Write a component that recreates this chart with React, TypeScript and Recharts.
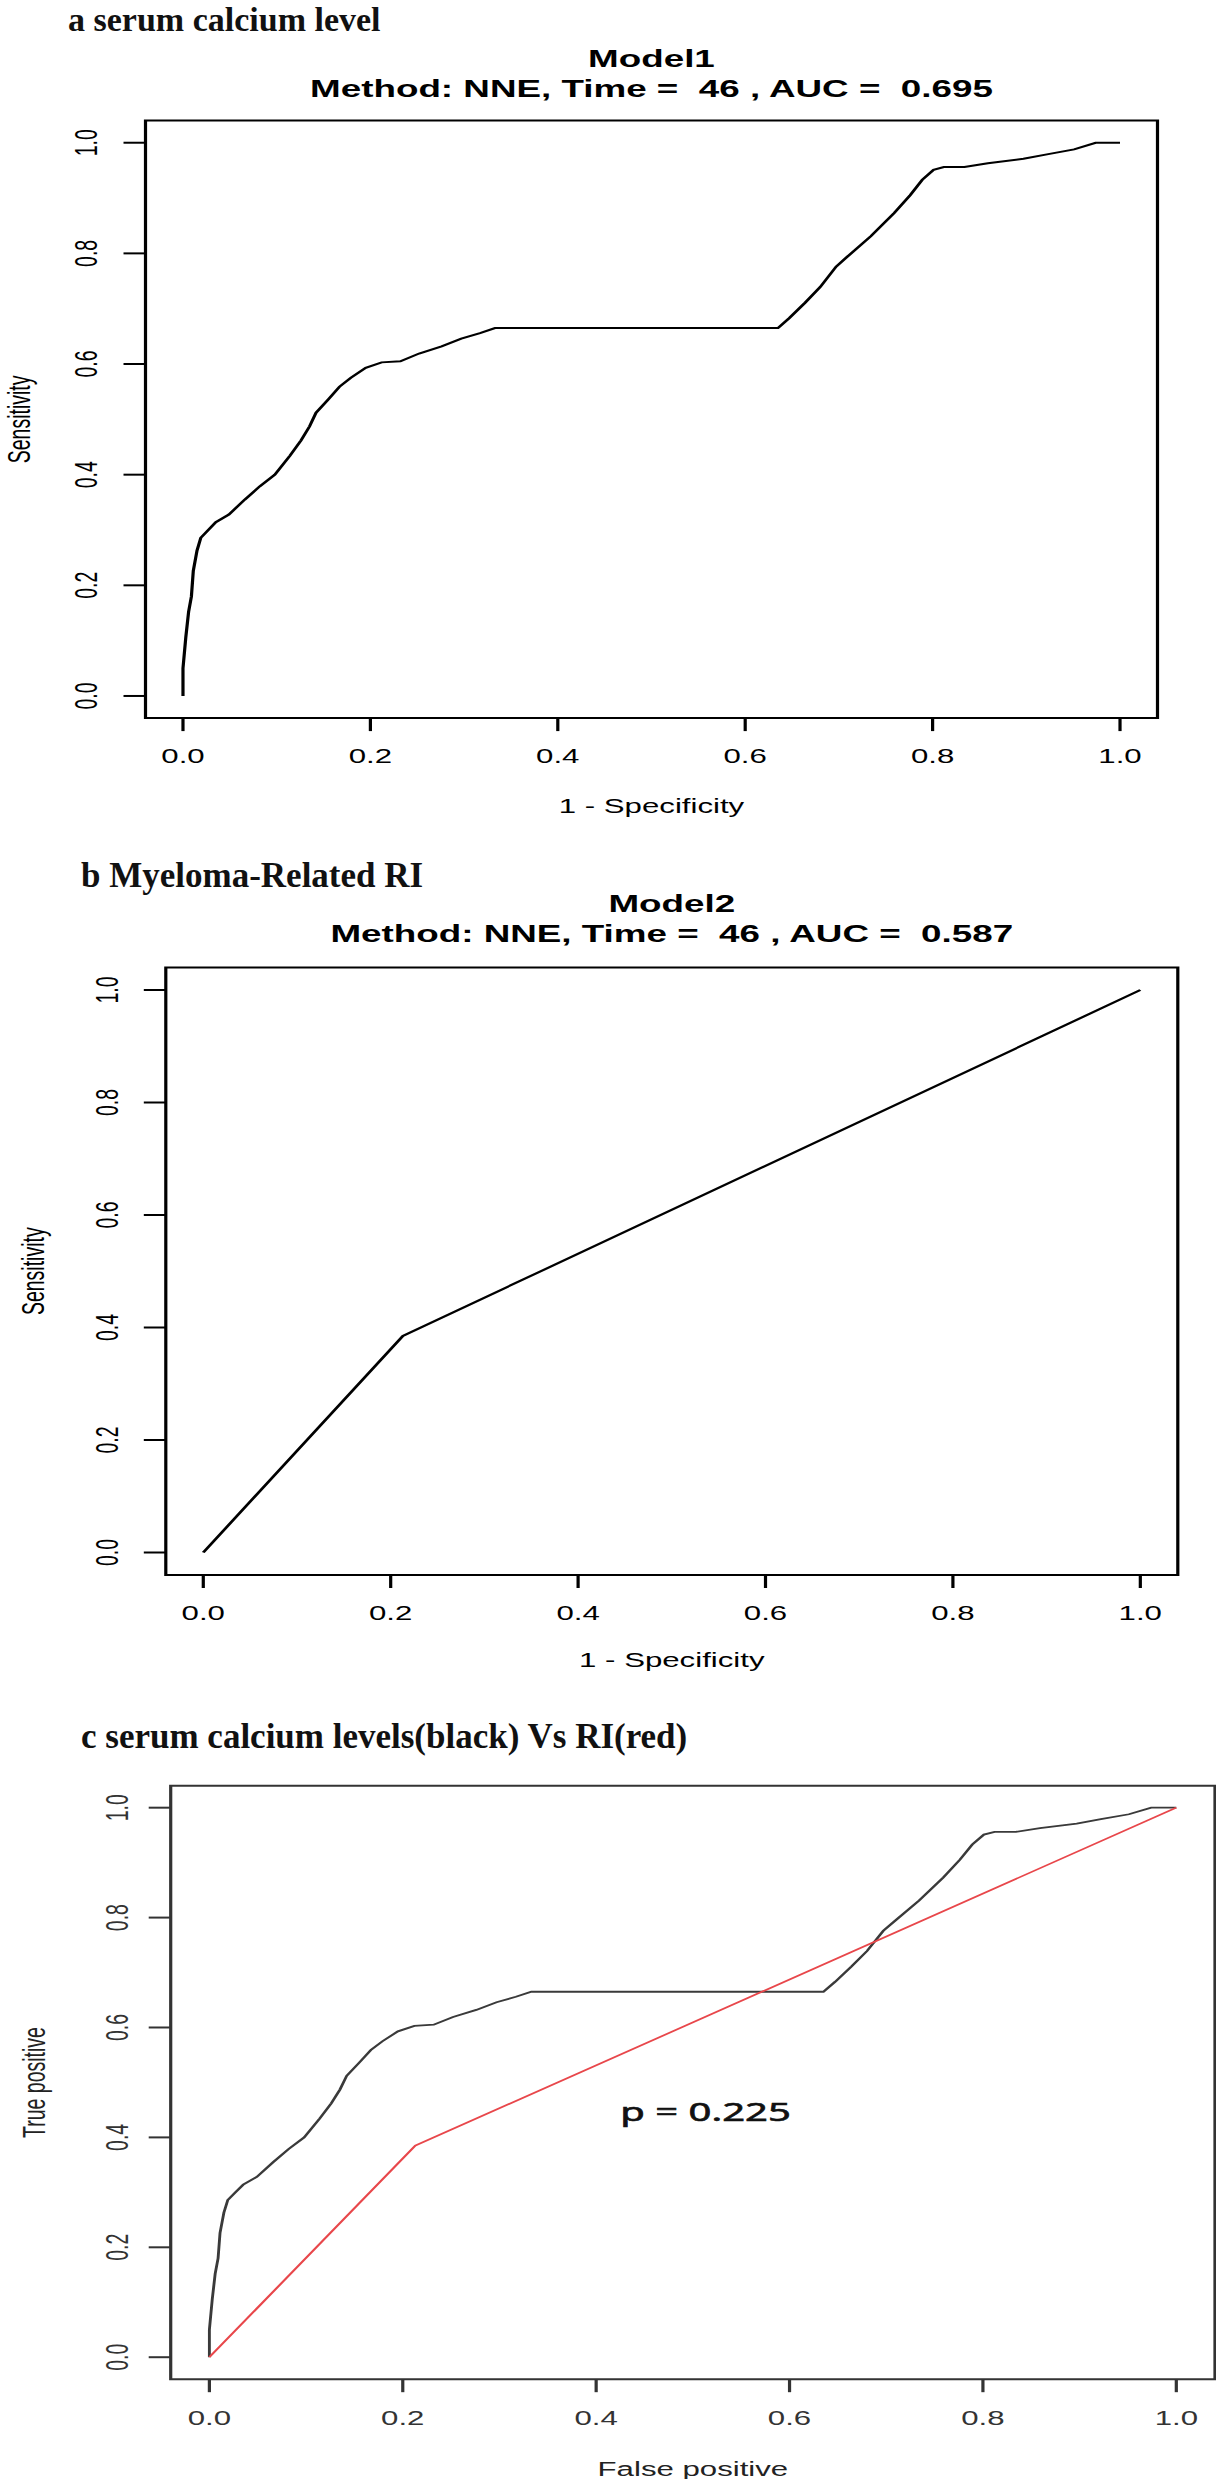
import React from 'react';
import { LineChart, Line, XAxis, YAxis, ReferenceArea, ReferenceDot } from 'recharts';

// the original figure is stretched sideways, so every chart is drawn narrow and scaled back out
const S = 1.6;
const PAGE_W = 1216;
const PAGE_H = 2479;
const CW = PAGE_W / S;

const ticks = [0, 0.2, 0.4, 0.6, 0.8, 1.0];

// serum calcium level ROC (Model1, AUC 0.695)
const calciumFpr = [0, 0, 0.003, 0.006, 0.009, 0.011, 0.015, 0.019, 0.027, 0.035, 0.049, 0.066, 0.082, 0.098, 0.114, 0.126, 0.135, 0.142, 0.155, 0.167, 0.179, 0.195, 0.212, 0.232, 0.252, 0.276, 0.297, 0.317, 0.333, 0.635, 0.647, 0.664, 0.68, 0.697, 0.709, 0.734, 0.759, 0.776, 0.789, 0.801, 0.812, 0.834, 0.859, 0.897, 0.922, 0.951, 0.974, 1];
const calciumTpr = [0, 0.05, 0.106, 0.152, 0.18, 0.226, 0.263, 0.286, 0.3, 0.314, 0.328, 0.355, 0.379, 0.4, 0.434, 0.462, 0.487, 0.512, 0.536, 0.559, 0.575, 0.593, 0.603, 0.605, 0.619, 0.632, 0.646, 0.656, 0.665, 0.665, 0.683, 0.711, 0.739, 0.776, 0.794, 0.831, 0.873, 0.905, 0.933, 0.951, 0.956, 0.956, 0.963, 0.971, 0.979, 0.988, 1, 1];

// myeloma-related RI ROC (Model2, AUC 0.587)
const riFpr = [0, 0.213, 1];
const riTpr = [0, 0.385, 1];

const pValueText = 'p = 0.225';
const pValueAt = { x: 0.425, y: 0.43 };

const toPoints = (xs: number[], ys: number[]) => xs.map((x, i) => ({ x, y: ys[i] }));
const calciumData = toPoints(calciumFpr, calciumTpr);
const riData = toPoints(riFpr, riTpr);

const SANS = '"Liberation Sans", Arial, sans-serif';
const SERIF = '"Liberation Serif", "Times New Roman", serif';

type Series = { data: { x: number; y: number }[]; color: string; width: number };

type PanelGeom = {
  chartTop: number;
  boxL: number;
  boxR: number;
  boxT: number;
  boxB: number;
  yLabRight: number;
  tickBase: number;
  ink: string;
  series: Series[];
  showP?: boolean;
};

function RocPanel(g: PanelGeom) {
  const mt = g.boxT - g.chartTop;
  const plotH = g.boxB - g.boxT;
  const xh = 120;
  const H = mt + plotH + xh;
  const yw = g.boxL / S;
  const mr = CW - g.boxR / S;

  const xTick = (p: any) => (
    <text
      x={p.x}
      y={g.tickBase - g.chartTop}
      textAnchor="middle"
      fontFamily={SANS}
      fontSize={19.5}
      fill={g.ink}
    >
      {Number(p.payload.value).toFixed(1)}
    </text>
  );

  const yTick = (p: any) => {
    const bx = g.yLabRight / S;
    return (
      <text
        x={bx}
        y={p.y}
        transform={`rotate(-90 ${bx} ${p.y})`}
        textAnchor="middle"
        fontFamily={SANS}
        fontSize={19.5}
        fill={g.ink}
      >
        {Number(p.payload.value).toFixed(1)}
      </text>
    );
  };

  const pLabel = (p: any) => (
    <text
      x={p.viewBox.x}
      y={p.viewBox.y}
      fontFamily='"Noto Sans", sans-serif'
      fontSize={25}
      fill="#111"
      stroke="#111"
      strokeWidth={0.6}
    >
      {pValueText}
    </text>
  );

  return (
    <div
      style={{
        position: 'absolute',
        left: 0,
        top: g.chartTop,
        width: CW,
        height: H,
        transform: `scaleX(${S})`,
        transformOrigin: '0 0',
      }}
    >
      <LineChart width={CW} height={H} margin={{ top: mt, right: mr, bottom: 0, left: 0 }}>
        <XAxis
          type="number"
          dataKey="x"
          domain={[-0.04, 1.04]}
          ticks={ticks}
          interval={0}
          allowDataOverflow
          axisLine={false}
          tickSize={13}
          tickLine={{ stroke: g.ink, strokeWidth: 2 }}
          tick={xTick}
          height={xh}
        />
        <YAxis
          type="number"
          dataKey="y"
          domain={[-0.04, 1.04]}
          ticks={ticks}
          interval={0}
          allowDataOverflow
          axisLine={false}
          tickSize={13.75}
          tickLine={{ stroke: g.ink, strokeWidth: 2 }}
          tick={yTick}
          width={yw}
        />
        <ReferenceArea
          x1={-0.04}
          x2={1.04}
          y1={-0.04}
          y2={1.04}
          fill="none"
          fillOpacity={0}
          stroke={g.ink}
          strokeWidth={2}
          ifOverflow="visible"
        />
        {g.series.map((s, i) => (
          <Line
            key={i}
            data={s.data}
            dataKey="y"
            type="linear"
            stroke={s.color}
            strokeWidth={s.width}
            dot={false}
            activeDot={false}
            isAnimationActive={false}
          />
        ))}
        {g.showP && (
          <ReferenceDot
            x={pValueAt.x}
            y={pValueAt.y}
            r={0}
            fill="none"
            stroke="none"
            ifOverflow="visible"
            label={pLabel}
          />
        )}
      </LineChart>
    </div>
  );
}

const geomA: PanelGeom = {
  chartTop: 100, boxL: 145.5, boxR: 1157.5, boxT: 120.6, boxB: 718.1,
  yLabRight: 97, tickBase: 763, ink: '#000',
  series: [{ data: calciumData, color: '#000', width: 2 }],
};
const geomB: PanelGeom = {
  chartTop: 947, boxL: 165.8, boxR: 1177.8, boxT: 967.5, boxB: 1575,
  yLabRight: 118, tickBase: 1620, ink: '#000',
  series: [{ data: riData, color: '#000', width: 2 }],
};
const geomC: PanelGeom = {
  chartTop: 1765, boxL: 170.7, boxR: 1215, boxT: 1785.7, boxB: 2379.2,
  yLabRight: 128, tickBase: 2425, ink: '#333',
  series: [
    { data: calciumData, color: '#3a3a3a', width: 1.8 },
    { data: riData, color: '#e8474b', width: 1.6 },
  ],
  showP: true,
};

// stretched R texts (titles and axis labels), page coordinates
function RText(props: { x: number; y: number; size?: number; bold?: boolean; rotate?: boolean; fill?: string; children: React.ReactNode }) {
  const x = props.x / S;
  return (
    <text
      x={x}
      y={props.y}
      transform={props.rotate ? `rotate(-90 ${x} ${props.y})` : undefined}
      textAnchor="middle"
      fontFamily={SANS}
      fontSize={props.size ?? 19.5}
      fontWeight={props.bold ? 'bold' : 'normal'}
      fill={props.fill ?? '#000'}
      style={{ whiteSpace: 'pre' }}
    >
      {props.children}
    </text>
  );
}

function Header(props: { x: number; y: number; size: number; letter: string; text: string }) {
  return (
    <text x={props.x} y={props.y} fontFamily={SERIF} fontWeight="bold" fontSize={props.size} fill="#111">
      {props.letter + ' ' + props.text}
    </text>
  );
}

export default function App() {
  return (
    <div style={{ position: 'absolute', left: 0, top: 0, width: PAGE_W, height: PAGE_H, background: '#fff', overflow: 'hidden' }}>
      <RocPanel {...geomA} />
      <RocPanel {...geomB} />
      <RocPanel {...geomC} />
      <svg
        width={PAGE_W}
        height={PAGE_H}
        style={{ position: 'absolute', left: 0, top: 0, pointerEvents: 'none' }}
      >
        <Header x={68} y={30.5} size={34} letter="a" text="serum calcium level" />
        <Header x={81} y={887} size={35} letter="b" text="Myeloma-Related RI" />
        <Header x={81} y={1748} size={35} letter="c" text="serum calcium levels(black) Vs RI(red)" />
        <g transform={`scale(${S} 1)`}>
          <RText x={651.5} y={67} size={23} bold>Model1</RText>
          <RText x={651.5} y={97} size={23} bold>{'Method: NNE, Time =  46 , AUC =  0.695'}</RText>
          <RText x={651.5} y={813}>1 - Specificity</RText>
          <RText x={30} y={419.4} rotate>Sensitivity</RText>

          <RText x={671.8} y={912} size={23} bold>Model2</RText>
          <RText x={671.8} y={942} size={23} bold>{'Method: NNE, Time =  46 , AUC =  0.587'}</RText>
          <RText x={671.8} y={1667}>1 - Specificity</RText>
          <RText x={44} y={1271.2} rotate>Sensitivity</RText>

          <RText x={692.9} y={2476} fill="#222">False positive</RText>
          <RText x={45} y={2082.5} rotate fill="#222">True positive</RText>
        </g>
      </svg>
    </div>
  );
}
